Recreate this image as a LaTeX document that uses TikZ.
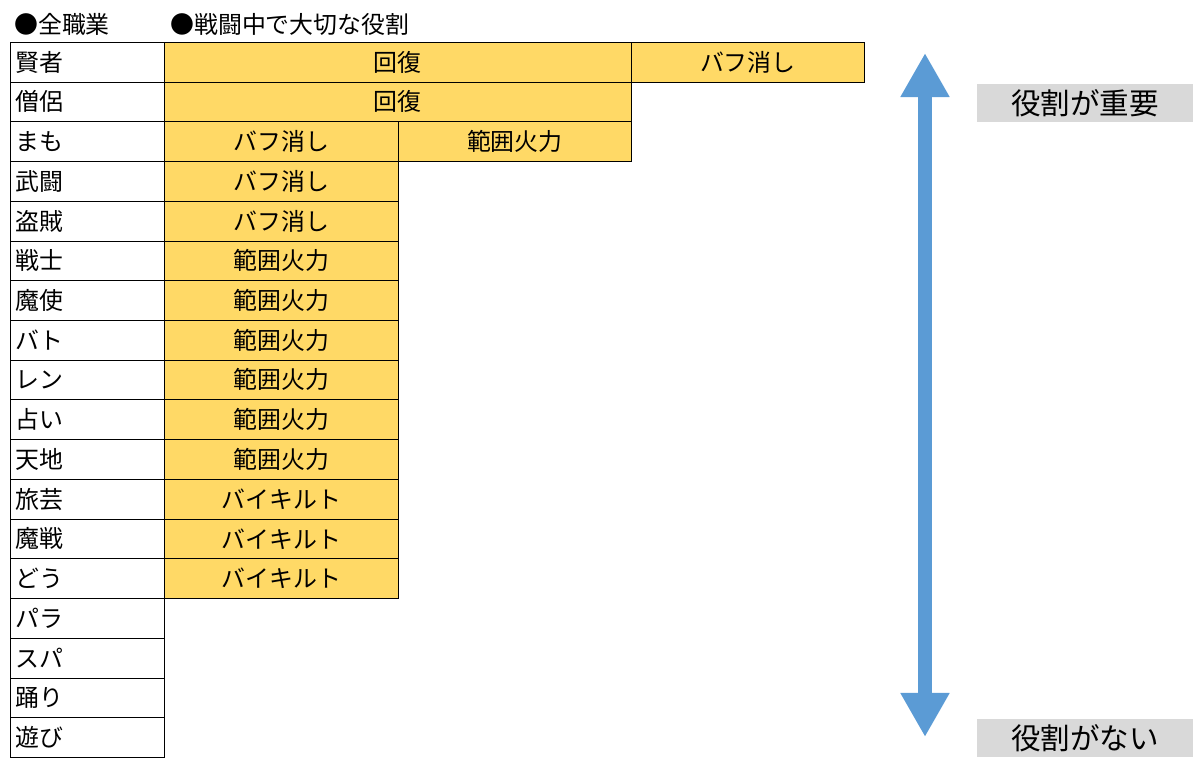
\documentclass[tikz,border=0pt]{standalone}
\usepackage{fontspec}
\newfontfamily\cjk{Noto Sans CJK JP}
\usetikzlibrary{arrows.meta,positioning}
\definecolor{roleorange}{RGB}{255,217,102}
\definecolor{arrowblue}{RGB}{91,155,213}
\definecolor{labelgray}{RGB}{217,217,217}
\tikzset{
	cell/.style={draw=black, thin, inner sep=0pt, font=\cjk\fontsize{17}{17}\selectfont},
	job/.style={cell, anchor=north west, minimum width=3.85cm, minimum height=0.9925cm, text width=3.6cm, align=left},
	role/.style={cell, fill=roleorange, anchor=north west, minimum height=0.9925cm},
	head/.style={anchor=west, inner sep=0pt, font=\cjk\fontsize{17}{17}\selectfont},
	tag/.style={fill=labelgray, inner sep=0pt, minimum width=5.375cm, minimum height=0.95cm, font=\cjk\fontsize{21}{21}\selectfont}
}
\begin{document}
\begin{tikzpicture}[x=0.025cm,y=-0.025cm]
	\useasboundingbox (0,0) rectangle (1200,766);
	
	%% headers
	\node [head] (hjob) at (14,24) {●全職業};
	\node [head] (hrole) at (170,24) {●戦闘中で大切な役割};
	
	%% job column
	\foreach \j [count=\i from 0] in {賢者,僧侶,まも,武闘,盗賊,戦士,魔使,バト,レン,占い,天地,旅芸,魔戦,どう,パラ,スパ,踊り,遊び}
		\node [job] (job\i) at (10,42+39.72*\i) {\j};
	
	%% role cells
	\node [role, minimum width=11.675cm] (r0a) at (164,42) {回復};
	\node [role, minimum width=5.825cm] (r0b) at (631,42) {バフ消し};
	\node [role, minimum width=11.675cm] (r1a) at (164,81.72) {回復};
	\node [role, minimum width=5.85cm] (r2a) at (164,121.44) {バフ消し};
	\node [role, minimum width=5.825cm] (r2b) at (398,121.44) {範囲火力};
	\foreach \r [count=\i from 3] in {バフ消し,バフ消し,範囲火力,範囲火力,範囲火力,範囲火力,範囲火力,範囲火力,バイキルト,バイキルト,バイキルト}
		\node [role, minimum width=5.85cm] (r\i a) at (164,42+39.72*\i) {\r};
	
	%% importance arrow
	\coordinate (top) at (925,53);
	\coordinate (bot) at (925,737);
	\draw [arrowblue, line width=0.36cm, {Triangle[width=1.15cm,length=1.1cm]}-{Triangle[width=1.15cm,length=1.1cm]}] (top) -- (bot);
	\node [tag] (high) at (1085,103) {役割が重要};
	\node [tag] (low) at (1085,738) {役割がない};
\end{tikzpicture}
\end{document}
